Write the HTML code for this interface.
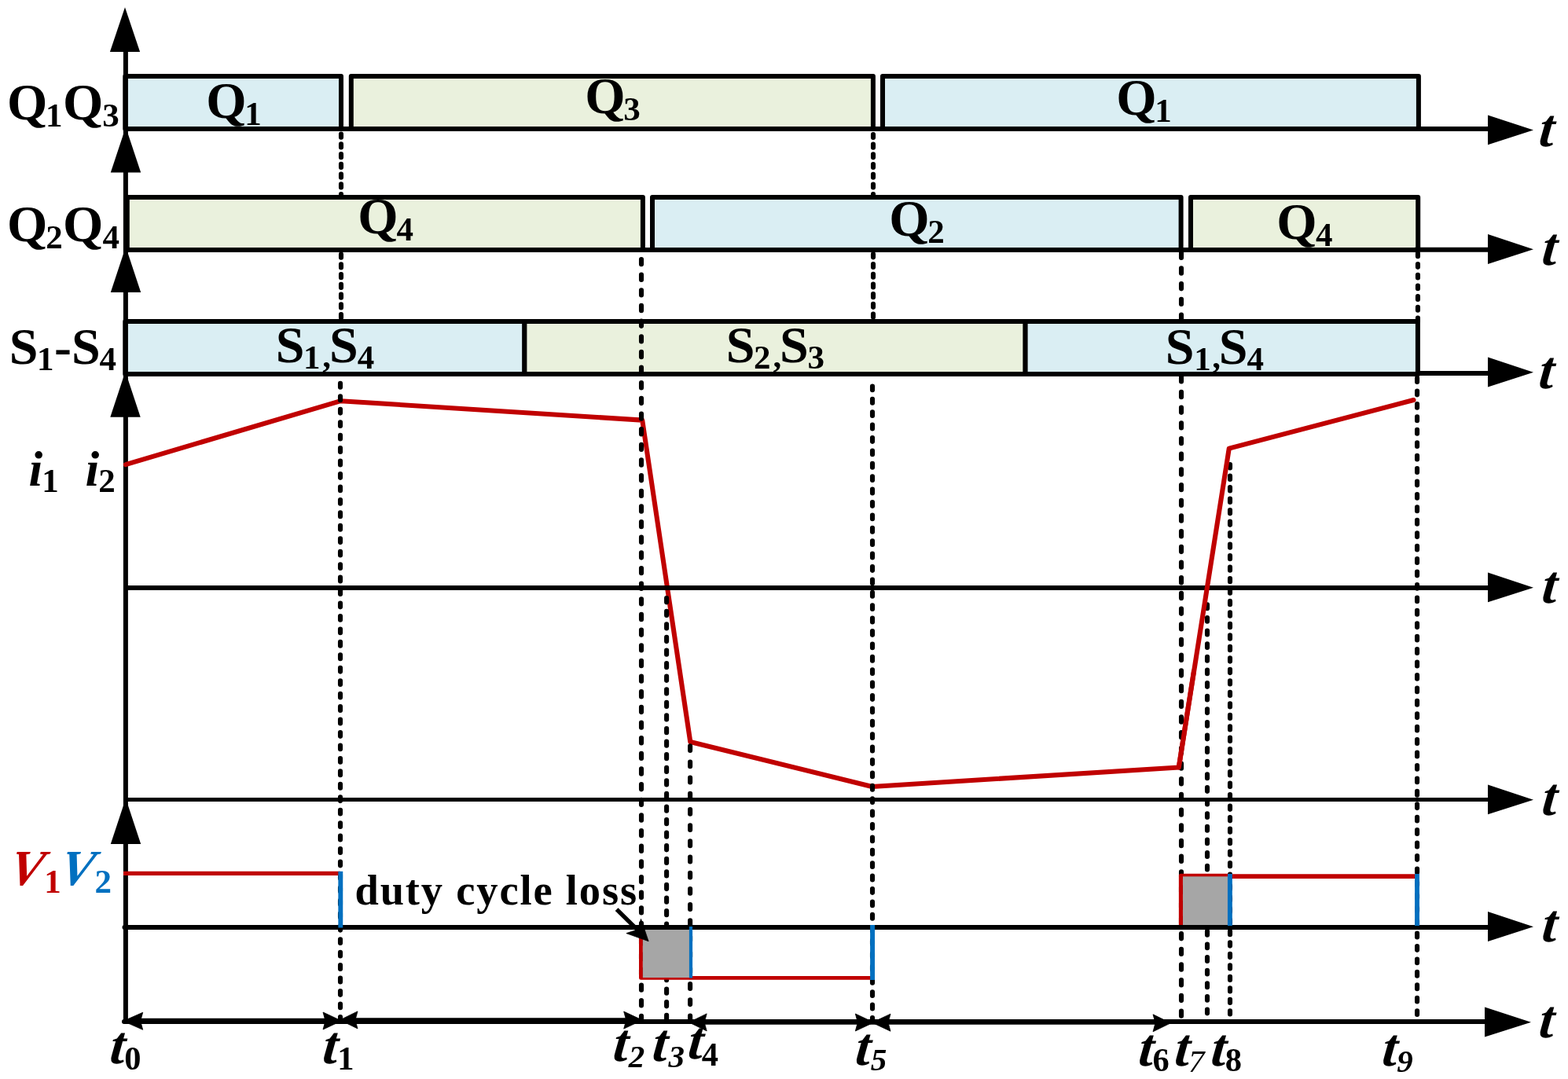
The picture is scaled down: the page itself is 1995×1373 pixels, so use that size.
<!DOCTYPE html>
<html lang="en">
<head>
<meta charset="utf-8">
<title>Timing diagram</title>
<style>
html,body{margin:0;padding:0;background:#fff;}
body{width:1995px;height:1373px;overflow:hidden;}
svg{display:block;}
svg text{font-family:"Liberation Serif","DejaVu Serif",serif;font-weight:bold;}
</style>
</head>
<body>
<svg width="1995" height="1373" viewBox="0 0 1995 1373">
<rect x="0" y="0" width="1995" height="1373" fill="#fff"/>
<g id="under">
<line x1="434" y1="170.65" x2="434" y2="409" stroke="#000" stroke-width="6.1" stroke-dasharray="4.1 8.65" stroke-linecap="round"/>
<line x1="1111" y1="170.95" x2="1111" y2="409" stroke="#000" stroke-width="6.1" stroke-dasharray="4 8.7" stroke-linecap="round"/>
<line x1="1803.95" y1="322.35" x2="1803.95" y2="409" stroke="#000" stroke-width="6.1" stroke-dasharray="3.8 9.9" stroke-linecap="round"/>
<line x1="1503" y1="321.67" x2="1503" y2="411" stroke="#000" stroke-width="6.1" stroke-dasharray="6.3 13.39" stroke-linecap="round"/>
</g>
<g id="boxes">
<rect x="159.3" y="97.05" width="274.7" height="66.95" fill="#DAEEF3" stroke="#000" stroke-width="6" stroke-linejoin="round"/>
<rect x="446.8" y="97.05" width="664.1" height="66.95" fill="#EAF1DD" stroke="#000" stroke-width="6" stroke-linejoin="round"/>
<rect x="1123" y="97.05" width="681.9" height="66.95" fill="#DAEEF3" stroke="#000" stroke-width="6" stroke-linejoin="round"/>
<rect x="161.8" y="251" width="656.1" height="66.9" fill="#EAF1DD" stroke="#000" stroke-width="6" stroke-linejoin="round"/>
<rect x="830" y="251" width="672.6" height="66.9" fill="#DAEEF3" stroke="#000" stroke-width="6" stroke-linejoin="round"/>
<rect x="1515" y="251" width="289.2" height="66.9" fill="#EAF1DD" stroke="#000" stroke-width="6" stroke-linejoin="round"/>
<rect x="159.3" y="409" width="508.1" height="67" fill="#DAEEF3" stroke="#000" stroke-width="6" stroke-linejoin="round"/>
<rect x="667.4" y="409" width="637.2" height="67" fill="#EAF1DD" stroke="#000" stroke-width="6" stroke-linejoin="round"/>
<rect x="1304.6" y="409" width="499.3" height="67" fill="#DAEEF3" stroke="#000" stroke-width="6" stroke-linejoin="round"/>
</g>
<g id="vaxis">
<line x1="159.9" y1="40" x2="159.9" y2="1302.5" stroke="#000" stroke-width="6"/>
<polygon points="139.9,65.9 159,9.3 178.1,65.9" fill="#000"/>
<polygon points="140.8,219.6 160,161.7 179.2,219.6" fill="#000"/>
<polygon points="140.8,371.9 160,314 179.2,371.9" fill="#000"/>
<polygon points="140.3,530.7 159.5,472.8 178.7,530.7" fill="#000"/>
<polygon points="140.8,1073.9 160,1016 179.2,1073.9" fill="#000"/>
</g>
<g id="waveA">
<polyline points="159.9,591.1 433.5,510.2 817.2,534.6 878.3,944 1109.6,1001 1499.8,976.5 1519,853.8" fill="none" stroke="#C00000" stroke-width="6.1" stroke-linejoin="round" stroke-linecap="round"/>
</g>
<g id="dash">
<line x1="433" y1="487.9" x2="433" y2="1298" stroke="#000" stroke-width="6.1" stroke-dasharray="4.8 11.65" stroke-linecap="round"/>
<line x1="1110" y1="491.45" x2="1110" y2="1298" stroke="#000" stroke-width="6.1" stroke-dasharray="4.8 11.6" stroke-linecap="round"/>
<line x1="1803.05" y1="481.12" x2="1803.05" y2="1298" stroke="#000" stroke-width="6.1" stroke-dasharray="4.8 11.63" stroke-linecap="round"/>
<line x1="816" y1="329.95" x2="816" y2="1298" stroke="#000" stroke-width="6.1" stroke-dasharray="6.3 13.35" stroke-linecap="round"/>
<line x1="848.1" y1="761.15" x2="848.1" y2="1298" stroke="#000" stroke-width="6.1" stroke-dasharray="5.2 11.38" stroke-linecap="round"/>
<line x1="878.1" y1="949.25" x2="878.1" y2="1298" stroke="#000" stroke-width="6.1" stroke-dasharray="5.8 14.39" stroke-linecap="round"/>
<line x1="1503" y1="479.19" x2="1503" y2="1298" stroke="#000" stroke-width="6.1" stroke-dasharray="6.3 13.39" stroke-linecap="round"/>
<line x1="1536" y1="769.35" x2="1536" y2="1298" stroke="#000" stroke-width="6.1" stroke-dasharray="4.8 11.82" stroke-linecap="round"/>
<line x1="1565" y1="591.15" x2="1565" y2="1298" stroke="#000" stroke-width="6.1" stroke-dasharray="4.3 10.18" stroke-linecap="round"/>
</g>
<g id="vred">
<polyline points="815.45,1183 815.45,1244.4 1110,1244.4" fill="none" stroke="#C00000" stroke-width="4.9" stroke-linejoin="round"/>
<polyline points="1502.4,1177.5 1502.4,1114.4 1565,1114.4" fill="none" stroke="#C00000" stroke-width="5.1" stroke-linejoin="round"/>
<line x1="1565" y1="1115.2" x2="1803" y2="1115.2" stroke="#C00000" stroke-width="5.8"/>
</g>
<g id="gray">
<rect x="817.85" y="1180" width="60" height="64" fill="#A6A6A6"/>
<rect x="1505" y="1115.3" width="58.5" height="64" fill="#A6A6A6"/>
</g>
<g id="axes">
<line x1="157" y1="164" x2="1806" y2="164" stroke="#000" stroke-width="6" stroke-linecap="butt"/>
<line x1="1800" y1="164.05" x2="1895" y2="164.05" stroke="#000" stroke-width="6" stroke-linecap="butt"/>
<polygon points="1893,146.5 1951,165.6 1893,184.3" fill="#000"/>
<line x1="157" y1="317.9" x2="1806" y2="317.9" stroke="#000" stroke-width="6" stroke-linecap="butt"/>
<line x1="1800" y1="317.8" x2="1895" y2="317.8" stroke="#000" stroke-width="6" stroke-linecap="butt"/>
<polygon points="1893,298.1 1951,317.2 1893,335.9" fill="#000"/>
<line x1="157" y1="476" x2="1806" y2="476" stroke="#000" stroke-width="6" stroke-linecap="butt"/>
<line x1="1804" y1="475" x2="1895" y2="475" stroke="#000" stroke-width="6" stroke-linecap="butt"/>
<polygon points="1893,454.6 1951,473.7 1893,492.4" fill="#000"/>
<line x1="157" y1="748" x2="1895" y2="748" stroke="#000" stroke-width="6" stroke-linecap="butt"/>
<polygon points="1893,728.55 1951,747.65 1893,766.35" fill="#000"/>
<line x1="157" y1="1017.5" x2="1895" y2="1017.5" stroke="#000" stroke-width="5.2" stroke-linecap="butt"/>
<polygon points="1893,998.55 1951,1017.65 1893,1036.35" fill="#000"/>
<line x1="158.5" y1="1180.05" x2="1895" y2="1180.05" stroke="#000" stroke-width="6" stroke-linecap="round"/>
<polygon points="1893,1160.1 1951,1179.2 1893,1197.9" fill="#000"/>
<line x1="158" y1="1300" x2="1891" y2="1300" stroke="#000" stroke-width="6.1" stroke-linecap="round"/>
<polygon points="1889,1281.6 1948,1300.7 1889,1319.4" fill="#000"/>
</g>
<g id="wave">
<polyline points="1499.8,976.5 1563.8,570.6 1798.5,509" fill="none" stroke="#C00000" stroke-width="6.1" stroke-linejoin="round" stroke-linecap="round"/>
<line x1="157" y1="1111.4" x2="433" y2="1111.4" stroke="#C00000" stroke-width="5.2"/>
<line x1="433.3" y1="1108.8" x2="433.3" y2="1180.5" stroke="#0070C0" stroke-width="5.9" stroke-linecap="butt"/>
<line x1="879" y1="1179" x2="879" y2="1244.5" stroke="#0070C0" stroke-width="4.2" stroke-linecap="butt"/>
<line x1="1110.05" y1="1177" x2="1110.05" y2="1247" stroke="#0070C0" stroke-width="5.9" stroke-linecap="butt"/>
<line x1="1564.9" y1="1111.9" x2="1564.9" y2="1178" stroke="#0070C0" stroke-width="5.9" stroke-linecap="butt"/>
<line x1="1803" y1="1112" x2="1803" y2="1178" stroke="#0070C0" stroke-width="5.9" stroke-linecap="butt"/>
</g>
<g id="anno">
<polygon points="156.7,1299.3 181.7,1288.3 178.7,1299.3 181.7,1310.3" fill="#000" stroke="#000" stroke-width="0.8" stroke-linejoin="round"/>
<polygon points="434.5,1299 411,1288 414,1299 411,1310" fill="#000" stroke="#000" stroke-width="0.8" stroke-linejoin="round"/>
<polygon points="432.5,1297.9 455,1286.9 452,1297.9 455,1308.9" fill="#000" stroke="#000" stroke-width="0.8" stroke-linejoin="round"/>
<polygon points="817.2,1298.1 793.7,1287.1 796.7,1298.1 793.7,1309.1" fill="#000" stroke="#000" stroke-width="0.8" stroke-linejoin="round"/>
<polygon points="876.7,1300.9 899.2,1289.9 896.2,1300.9 899.2,1311.9" fill="#000" stroke="#000" stroke-width="0.8" stroke-linejoin="round"/>
<polygon points="1111.8,1301 1088.3,1290 1091.3,1301 1088.3,1312" fill="#000" stroke="#000" stroke-width="0.8" stroke-linejoin="round"/>
<polygon points="1109.5,1301.2 1133,1290.2 1130,1301.2 1133,1312.2" fill="#000" stroke="#000" stroke-width="0.8" stroke-linejoin="round"/>
<polygon points="1489.5,1301.8 1467,1290.8 1470,1301.8 1467,1312.8" fill="#000" stroke="#000" stroke-width="0.8" stroke-linejoin="round"/>
<line x1="165" y1="1299.4" x2="425" y2="1299.4" stroke="#000" stroke-width="7.1"/>
<line x1="440" y1="1299.05" x2="806" y2="1299.05" stroke="#000" stroke-width="7.8"/>
<line x1="885" y1="1300.3" x2="1480" y2="1300.3" stroke="#000" stroke-width="6.7"/>
<line x1="784.6" y1="1157.2" x2="812" y2="1184.2" stroke="#000" stroke-width="5.4"/>
<polygon points="825.1,1197.7 796.9,1187.6 811.6,1182.8 815.5,1169.3" fill="#000" stroke="#000" stroke-width="0.8" stroke-linejoin="round"/>
</g>
<g id="text">
<text><tspan x="9.06" y="152.15" font-size="66">Q</tspan><tspan x="58" y="161.24" font-size="43">1</tspan><tspan x="80.11" y="152.15" font-size="66">Q</tspan><tspan x="130.21" y="160.97" font-size="43">3</tspan></text>
<text><tspan x="9.06" y="307.15" font-size="66">Q</tspan><tspan x="58.22" y="316.28" font-size="43">2</tspan><tspan x="80.11" y="307.15" font-size="66">Q</tspan><tspan x="130.41" y="315.9" font-size="43">4</tspan></text>
<text><tspan x="11.79" y="462.67" font-size="66">S</tspan><tspan x="47.05" y="471.14" font-size="43">1</tspan><tspan x="69.01" y="463.64" font-size="66">-</tspan><tspan x="90.94" y="462.67" font-size="66">S</tspan><tspan x="126.41" y="471.1" font-size="43">4</tspan></text>
<text><tspan x="36.46" y="618.16" font-size="64" font-style="italic">i</tspan><tspan x="53.15" y="626.24" font-size="43">1</tspan><tspan x="108.56" y="618.16" font-size="64" font-style="italic">i</tspan><tspan x="125.22" y="626.28" font-size="43">2</tspan></text>
<g><text x="9.28" y="1125.93" font-size="64" font-style="italic" fill="#C00000" transform="translate(9.28 1125.93) skewX(-11.31) translate(-9.28 -1125.93)">V</text><text><tspan x="56.2" y="1136.24" font-size="43" fill="#C00000">1</tspan></text><text x="73.38" y="1125.93" font-size="64" font-style="italic" fill="#0070C0" transform="translate(73.38 1125.93) skewX(-11.31) translate(-73.38 -1125.93)">V</text><text><tspan x="120.42" y="1136.28" font-size="43" fill="#0070C0">2</tspan></text></g>
<text><tspan x="262.36" y="149.75" font-size="66">Q</tspan><tspan x="311.35" y="159.19" font-size="43">1</tspan></text>
<text><tspan x="744.21" y="144" font-size="66">Q</tspan><tspan x="793.36" y="153.12" font-size="43">3</tspan></text>
<text><tspan x="1420.21" y="145.7" font-size="66">Q</tspan><tspan x="1469.15" y="155.09" font-size="43">1</tspan></text>
<text><tspan x="455.21" y="296.7" font-size="66">Q</tspan><tspan x="504.41" y="306.05" font-size="43">4</tspan></text>
<text><tspan x="1131.21" y="300" font-size="66">Q</tspan><tspan x="1180.32" y="309.13" font-size="43">2</tspan></text>
<text><tspan x="1624.21" y="303.88" font-size="66">Q</tspan><tspan x="1674.01" y="312.95" font-size="43">4</tspan></text>
<text><tspan x="350.84" y="460.52" font-size="66">S</tspan><tspan x="386" y="469.14" font-size="43">1</tspan><tspan x="410.31" y="467.03" font-size="43">,</tspan><tspan x="418.89" y="460.52" font-size="66">S</tspan><tspan x="454.76" y="469.1" font-size="43">4</tspan></text>
<text><tspan x="923.84" y="460.52" font-size="66">S</tspan><tspan x="959.07" y="469.18" font-size="43">2</tspan><tspan x="983.46" y="467.03" font-size="43">,</tspan><tspan x="991.89" y="460.52" font-size="66">S</tspan><tspan x="1027.41" y="469.32" font-size="43">3</tspan></text>
<text><tspan x="1482.79" y="462.62" font-size="66">S</tspan><tspan x="1519.25" y="471.04" font-size="43">1</tspan><tspan x="1542.31" y="468.13" font-size="43">,</tspan><tspan x="1550.74" y="462.62" font-size="66">S</tspan><tspan x="1586.41" y="471" font-size="43">4</tspan></text>
<text x="1956.66" y="185.54" font-size="68.5" font-style="italic" transform="translate(1956.66 185.54) skewX(-5.71) translate(-1956.66 -185.54)">t</text>
<text x="1960.46" y="337.34" font-size="68.5" font-style="italic" transform="translate(1960.46 337.34) skewX(-5.71) translate(-1960.46 -337.34)">t</text>
<text x="1956.56" y="493.54" font-size="68.5" font-style="italic" transform="translate(1956.56 493.54) skewX(-5.71) translate(-1956.56 -493.54)">t</text>
<text x="1960.61" y="767.39" font-size="68.5" font-style="italic" transform="translate(1960.61 767.39) skewX(-5.71) translate(-1960.61 -767.39)">t</text>
<text x="1960.61" y="1037.39" font-size="68.5" font-style="italic" transform="translate(1960.61 1037.39) skewX(-5.71) translate(-1960.61 -1037.39)">t</text>
<text x="1960.61" y="1198.39" font-size="68.5" font-style="italic" transform="translate(1960.61 1198.39) skewX(-5.71) translate(-1960.61 -1198.39)">t</text>
<text x="1956.66" y="1320.44" font-size="68.5" font-style="italic" transform="translate(1956.66 1320.44) skewX(-5.71) translate(-1956.66 -1320.44)">t</text>
<g><text x="138.61" y="1352.99" font-size="68.5" font-style="italic" transform="translate(138.61 1352.99) skewX(-5.71) translate(-138.61 -1352.99)">t</text><text><tspan x="158.18" y="1360.62" font-size="42.5">0</tspan></text></g>
<g><text x="409.31" y="1352.99" font-size="68.5" font-style="italic" transform="translate(409.31 1352.99) skewX(-5.71) translate(-409.31 -1352.99)">t</text><text><tspan x="429.18" y="1360.72" font-size="42.5">1</tspan></text></g>
<g><text x="778.86" y="1350.09" font-size="68.5" font-style="italic" transform="translate(778.86 1350.09) skewX(-5.71) translate(-778.86 -1350.09)">t</text><text><tspan x="799.77" y="1358.27" font-size="41" font-style="italic">2</tspan></text></g>
<g><text x="828.66" y="1350.09" font-size="68.5" font-style="italic" transform="translate(828.66 1350.09) skewX(-5.71) translate(-828.66 -1350.09)">t</text><text><tspan x="850.42" y="1357.77" font-size="41" font-style="italic">3</tspan></text></g>
<g><text x="873.96" y="1346.59" font-size="68.5" font-style="italic" transform="translate(873.96 1346.59) skewX(-5.71) translate(-873.96 -1346.59)">t</text><text><tspan x="892.83" y="1356.13" font-size="42.5">4</tspan></text></g>
<g><text x="1087.01" y="1354.79" font-size="68.5" font-style="italic" transform="translate(1087.01 1354.79) skewX(-5.71) translate(-1087.01 -1354.79)">t</text><text><tspan x="1107.66" y="1362.12" font-size="41" font-style="italic">5</tspan></text></g>
<g><text x="1447.21" y="1355.59" font-size="68.5" font-style="italic" transform="translate(1447.21 1355.59) skewX(-5.71) translate(-1447.21 -1355.59)">t</text><text><tspan x="1466.57" y="1363.36" font-size="42.5">6</tspan></text></g>
<g><text x="1493.36" y="1355.59" font-size="68.5" font-style="italic" transform="translate(1493.36 1355.59) skewX(-5.71) translate(-1493.36 -1355.59)">t</text><text><tspan x="1512.09" y="1363.63" font-size="41" font-style="italic" font-weight="normal">7</tspan></text></g>
<g><text x="1539.46" y="1355.59" font-size="68.5" font-style="italic" transform="translate(1539.46 1355.59) skewX(-5.71) translate(-1539.46 -1355.59)">t</text><text><tspan x="1558.72" y="1363.42" font-size="42.5">8</tspan></text></g>
<g><text x="1757.31" y="1355.59" font-size="68.5" font-style="italic" transform="translate(1757.31 1355.59) skewX(-5.71) translate(-1757.31 -1355.59)">t</text><text><tspan x="1777.21" y="1363.57" font-size="41" font-style="italic">9</tspan></text></g>
<text x="451.5" y="1150.6" font-size="54.5" letter-spacing="1.83">duty cycle loss</text>
</g>
</svg>
</body>
</html>
